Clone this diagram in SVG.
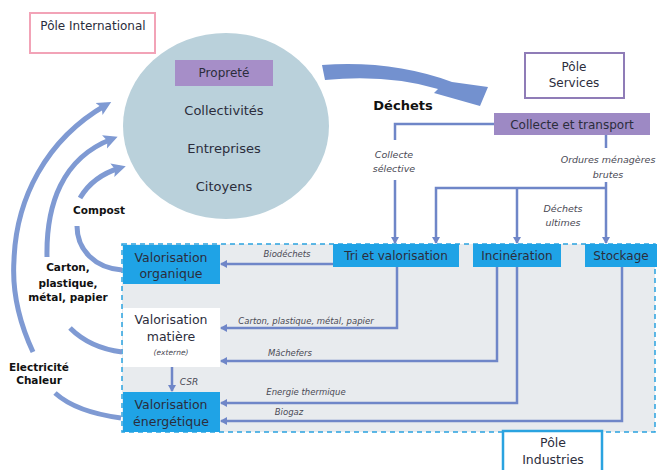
<svg xmlns="http://www.w3.org/2000/svg" width="661" height="470" viewBox="0 0 661 470">
<defs>
<style>
.t{font-family:"DejaVu Sans","Liberation Sans",sans-serif;fill:#2b2d3c;text-anchor:middle}
.b{font-family:"DejaVu Sans","Liberation Sans",sans-serif;font-weight:bold;fill:#111;text-anchor:middle}
.i{font-family:"DejaVu Sans","Liberation Sans",sans-serif;font-style:italic;fill:#4a4a55;text-anchor:middle}
.ln{fill:none;stroke:#6f86c8;stroke-width:2.5}
.arc{fill:none;stroke:#7f9ad3;stroke-width:5}
.blue{fill:#1fa3e6}
</style>
<marker id="ah" markerWidth="8" markerHeight="8" refX="6" refY="4" orient="auto" markerUnits="userSpaceOnUse">
<path d="M0,0 L7,4 L0,8 Z" fill="#6f86c8"/>
</marker>
<marker id="big" markerWidth="16" markerHeight="16" refX="8" refY="8" orient="auto" markerUnits="userSpaceOnUse">
<path d="M0,1 L14,8 L0,15 L3,8 Z" fill="#7f9ad3"/>
</marker>
</defs>
<rect width="661" height="470" fill="#ffffff"/>

<g id="zone-industries">
<rect x="122" y="244" width="533" height="188" fill="#e8ebee" stroke="#2aa3e0" stroke-width="1.5" stroke-dasharray="5,4"/>
</g>

<g id="pole-international">
<rect x="30" y="13" width="125" height="40" fill="#fff" stroke="#f2a3b7" stroke-width="2"/>
<text class="t" x="93" y="30" font-size="12">Pôle International</text>
</g>

<g id="acteurs">
<ellipse cx="226" cy="126" rx="103" ry="93" fill="#bad1db"/>
<rect x="175" y="60" width="98" height="26" fill="#a68ec8"/>
<text class="t" x="224" y="77" font-size="12">Propreté</text>
<text class="t" x="224" y="115" font-size="13">Collectivités</text>
<text class="t" x="224" y="153" font-size="13">Entreprises</text>
<text class="t" x="224" y="191" font-size="13">Citoyens</text>
</g>

<g id="pole-services">
<rect x="525" y="53" width="99" height="45" fill="#fff" stroke="#8f7cb7" stroke-width="2"/>
<text class="t" x="574" y="71" font-size="12">Pôle</text>
<text class="t" x="574" y="87" font-size="12">Services</text>
</g>

<g id="collecte">
<rect x="494" y="113" width="156" height="22" fill="#9d89c4"/>
<text class="t" x="572" y="129" font-size="12">Collecte et transport</text>
</g>

<g id="tri">
<rect class="blue" x="333" y="244" width="126" height="23"/>
<text class="t" x="396" y="260" font-size="12">Tri et valorisation</text>
</g>
<g id="incineration">
<rect class="blue" x="473" y="244" width="88" height="23"/>
<text class="t" x="517" y="260" font-size="12">Incinération</text>
</g>
<g id="stockage">
<rect class="blue" x="585" y="244" width="72" height="23"/>
<text class="t" x="621" y="260" font-size="12">Stockage</text>
</g>

<g id="valo-organique">
<rect class="blue" x="123" y="245" width="97" height="39"/>
<text class="t" x="171" y="262" font-size="12.5">Valorisation</text>
<text class="t" x="171" y="278" font-size="12.5">organique</text>
</g>
<g id="valo-matiere">
<rect x="123" y="308" width="97" height="59" fill="#fff"/>
<text class="t" x="171" y="324" font-size="12.5">Valorisation</text>
<text class="t" x="171" y="341" font-size="12.5">matière</text>
<text class="i" x="171" y="355" font-size="7.5">(externe)</text>
</g>
<g id="valo-energetique">
<rect class="blue" x="123" y="392" width="97" height="40"/>
<text class="t" x="171" y="409" font-size="12.5">Valorisation</text>
<text class="t" x="171" y="426" font-size="12.5">énergétique</text>
</g>

<g id="pole-industries">
<rect x="503" y="431" width="99" height="45" fill="#fff" stroke="#2aa3e0" stroke-width="2.5"/>
<text class="t" x="553" y="447" font-size="12.5">Pôle</text>
<text class="t" x="553" y="464" font-size="12.5">Industries</text>
</g>

<g id="connectors">
<path d="M322,65 Q392,60 452,82 L488,87 L480,106 L434,93 L438,89 Q388,74 325,80 Z" fill="#7391cf"/>
<text class="b" x="403" y="110" font-size="13">Déchets</text>

<path class="ln" d="M494,124 H395 V140"/>
<path class="ln" d="M395,180 V243" marker-end="url(#ah)"/>
<text class="i" x="394" y="158" font-size="9.5">Collecte</text>
<text class="i" x="394" y="172" font-size="9.5">sélective</text>

<path class="ln" d="M606,135 V148"/>
<text class="i" x="608" y="163" font-size="9.5">Ordures ménagères</text>
<text class="i" x="608" y="178" font-size="9.5">brutes</text>
<path class="ln" d="M606,182 V243" marker-end="url(#ah)"/>
<path class="ln" d="M606,188 H436 V243" marker-end="url(#ah)"/>
<path class="ln" d="M517,188 V243" marker-end="url(#ah)"/>
<text class="i" x="563" y="212" font-size="9.5">Déchets</text>
<text class="i" x="563" y="226" font-size="9.5">ultimes</text>

<path class="ln" d="M333,264 H221" marker-end="url(#ah)"/>
<text class="i" x="287" y="257" font-size="8.5">Biodéchets</text>
<path class="ln" d="M397,267 V328 H221" marker-end="url(#ah)"/>
<text class="i" x="306" y="324" font-size="8.5">Carton, plastique, métal, papier</text>
<path class="ln" d="M497,267 V361 H221" marker-end="url(#ah)"/>
<text class="i" x="290" y="356" font-size="8.5">Mâchefers</text>
<path class="ln" d="M517,267 V403 H221" marker-end="url(#ah)"/>
<text class="i" x="306" y="395" font-size="8.5">Energie thermique</text>
<path class="ln" d="M622,267 V421 H221" marker-end="url(#ah)"/>
<text class="i" x="289" y="415" font-size="8.5">Biogaz</text>
<path class="ln" d="M172,367 V391" marker-end="url(#ah)"/>
<text class="i" x="189" y="385" font-size="9">CSR</text>

<path class="arc" d="M121,418 Q76,412 55,393"/>
<path class="arc" d="M33,352 C18,320 12,290 14,260 C16,200 45,140 106,105" marker-end="url(#big)"/>
<path class="arc" d="M122,352 Q90,348 70,328"/>
<path class="arc" d="M47,257 C46,205 62,158 112,139" marker-end="url(#big)"/>
<path class="arc" d="M122,270 C95,268 77,250 77,226"/>
<path class="arc" d="M80,198 Q93,176 120,168" marker-end="url(#big)"/>

<text class="b" x="99" y="214" font-size="10.5">Compost</text>
<text class="b" x="68" y="271" font-size="10.5">Carton,</text>
<text class="b" x="68" y="287" font-size="10.5">plastique,</text>
<text class="b" x="68" y="301" font-size="10.5">métal, papier</text>
<text class="b" x="39" y="371" font-size="10.5">Electricité</text>
<text class="b" x="39" y="384" font-size="10.5">Chaleur</text>
</g>
</svg>
